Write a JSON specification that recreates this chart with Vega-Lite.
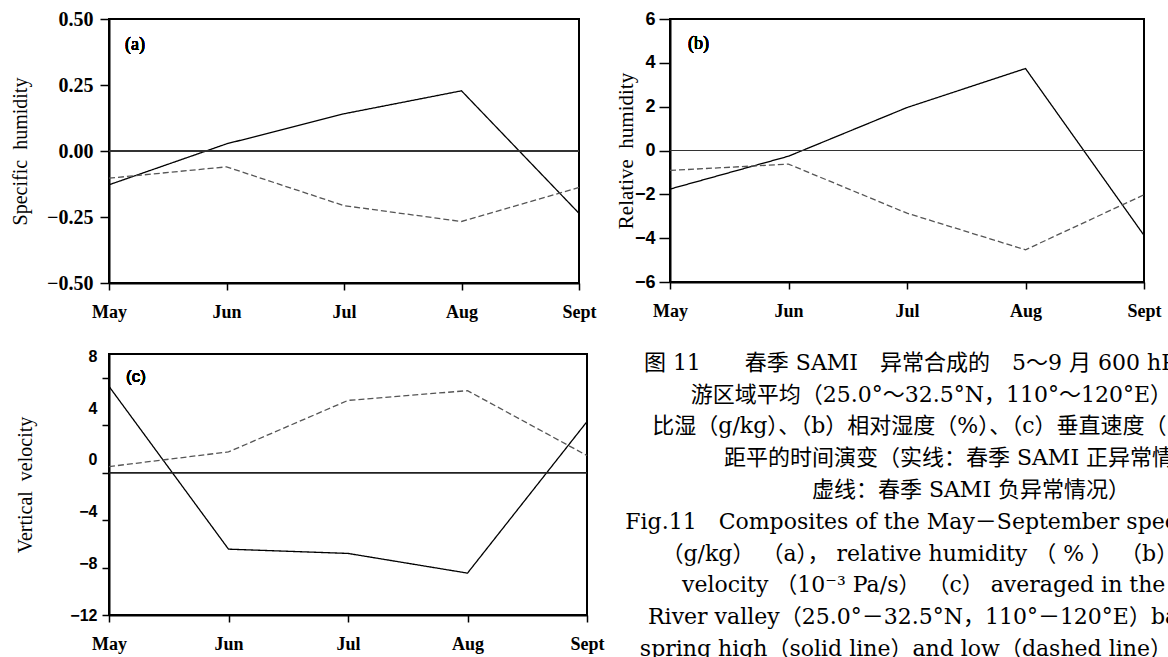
{
  "$schema": "https://vega.github.io/schema/vega-lite/v6.json",
  "background": "white",
  "padding": {"left": 8, "top": 8, "right": 0, "bottom": 0},
  "config": {
    "view": {"stroke": null},
    "axis": {"grid": false, "domainColor": "black", "tickColor": "black", "labelColor": "black", "titleColor": "black"}
  },
  "datasets": {
    "a": [
      {"month": "May", "case": "high", "value": -0.128},
      {"month": "Jun", "case": "high", "value": 0.027},
      {"month": "Jul", "case": "high", "value": 0.141},
      {"month": "Aug", "case": "high", "value": 0.228},
      {"month": "Sept", "case": "high", "value": -0.236},
      {"month": "May", "case": "low", "value": -0.103},
      {"month": "Jun", "case": "low", "value": -0.06},
      {"month": "Jul", "case": "low", "value": -0.207},
      {"month": "Aug", "case": "low", "value": -0.267},
      {"month": "Sept", "case": "low", "value": -0.138}
    ],
    "b": [
      {"month": "May", "case": "high", "value": -1.76},
      {"month": "Jun", "case": "high", "value": -0.26},
      {"month": "Jul", "case": "high", "value": 1.96},
      {"month": "Aug", "case": "high", "value": 3.74},
      {"month": "Sept", "case": "high", "value": -3.87},
      {"month": "May", "case": "low", "value": -0.91},
      {"month": "Jun", "case": "low", "value": -0.62},
      {"month": "Jul", "case": "low", "value": -2.86},
      {"month": "Aug", "case": "low", "value": -4.53},
      {"month": "Sept", "case": "low", "value": -2.02}
    ],
    "c": [
      {"month": "May", "case": "high", "value": 7.27},
      {"month": "Jun", "case": "high", "value": -6.45},
      {"month": "Jul", "case": "high", "value": -6.81},
      {"month": "Aug", "case": "high", "value": -8.47},
      {"month": "Sept", "case": "high", "value": 4.3},
      {"month": "May", "case": "low", "value": 0.51},
      {"month": "Jun", "case": "low", "value": 1.75},
      {"month": "Jul", "case": "low", "value": 6.09},
      {"month": "Aug", "case": "low", "value": 6.91},
      {"month": "Sept", "case": "low", "value": 1.44}
    ],
    "cap": [
      {"line": 1, "lang": "zh", "text": "图 11　　春季 SAMI　异常合成的　5～9 月 600 hPa　长江中下"},
      {"line": 2, "lang": "zh", "text": "游区域平均（25.0°～32.5°N，110°～120°E）的（a）"},
      {"line": 3, "lang": "zh", "text": "比湿（g/kg）、（b）相对湿度（%）、（c）垂直速度（10⁻³ Pa/s）"},
      {"line": 4, "lang": "zh", "text": "距平的时间演变（实线：春季 SAMI 正异常情况；"},
      {"line": 5, "lang": "zh", "text": "虚线：春季 SAMI 负异常情况）"},
      {"line": 6, "lang": "en", "text": "Fig.11　Composites of the May－September specific humidity"},
      {"line": 7, "lang": "en", "text": "（g/kg） （a）， relative humidity （ % ） （b）， vertical"},
      {"line": 8, "lang": "en", "text": "velocity （10⁻³ Pa/s） （c） averaged in the Yangtze"},
      {"line": 9, "lang": "en", "text": "River valley（25.0°－32.5°N，110°－120°E）based on the"},
      {"line": 10, "lang": "en", "text": "spring high（solid line）and low（dashed line）SAMI cases"}
    ]
  },
  "columns": 2,
  "align": "none",
  "spacing": {"row": 25, "column": 7},
  "concat": [
    {
      "width": 470, "height": 264,
      "view": {"stroke": "black", "strokeWidth": 2},
      "data": {"name": "a"},
      "layer": [
        {
          "mark": {"type": "line", "strokeWidth": 1.3},
          "encoding": {
            "x": {"field": "month", "type": "ordinal", "sort": ["May", "Jun", "Jul", "Aug", "Sept"], "scale": {"type": "point", "padding": 0},
              "axis": {"title": null, "labelAngle": 0, "labelFont": "Liberation Serif", "labelFontWeight": "bold", "labelFontSize": 18, "tickSize": 7, "tickWidth": 1.5, "domainWidth": 2, "labelPadding": 13}},
            "y": {"field": "value", "type": "quantitative", "scale": {"domain": [-0.5, 0.5], "nice": false},
              "axis": {"title": "Specific\u00a0 humidity", "values": [-0.5, -0.25, 0, 0.25, 0.5], "format": ".2f",
                "labelFont": "Liberation Serif", "labelFontWeight": "bold", "labelFontSize": 20, "tickSize": 9, "tickWidth": 1.5, "labelPadding": 7, "domainWidth": 2,
                "titleFont": "Liberation Serif", "titleFontSize": 20, "titleFontWeight": "normal", "titleX": -89, "titleBaseline": "middle"}},
            "color": {"field": "case", "type": "nominal", "scale": {"domain": ["high", "low"], "range": ["#000000", "#555555"]}, "legend": null},
            "strokeDash": {"field": "case", "type": "nominal", "scale": {"domain": ["high", "low"], "range": [[1, 0], [6, 3]]}, "legend": null}
          }
        },
        {
          "mark": {"type": "rule", "color": "#333333", "strokeWidth": 1},
          "encoding": {"y": {"datum": 0}}
        },
        {
          "mark": {"type": "text", "text": "(a)", "align": "left", "baseline": "middle", "dx": 16, "dy": 26, "font": "Liberation Serif", "fontWeight": "normal", "fontSize": 18},
          "encoding": {"x": {"datum": "May"}, "y": {"datum": 0.5}}
        }
      ]
    },
    {
      "width": 474, "height": 263,
      "view": {"stroke": "black", "strokeWidth": 2},
      "data": {"name": "b"},
      "layer": [
        {
          "mark": {"type": "line", "strokeWidth": 1.3},
          "encoding": {
            "x": {"field": "month", "type": "ordinal", "sort": ["May", "Jun", "Jul", "Aug", "Sept"], "scale": {"type": "point", "padding": 0},
              "axis": {"title": null, "labelAngle": 0, "labelFont": "Liberation Serif", "labelFontWeight": "bold", "labelFontSize": 18, "tickSize": 7, "tickWidth": 1.5, "domainWidth": 2, "labelPadding": 13}},
            "y": {"field": "value", "type": "quantitative", "scale": {"domain": [-6, 6], "nice": false},
              "axis": {"title": "Relative\u00a0 humidity", "values": [-6, -4, -2, 0, 2, 4, 6],
                "labelFont": "Liberation Sans", "labelFontWeight": "bold", "labelFontSize": 18, "tickSize": 11, "tickWidth": 1.5, "labelPadding": 4, "domainWidth": 2,
                "titleFont": "Liberation Serif", "titleFontSize": 21, "titleFontWeight": "normal", "titleX": -44, "titleBaseline": "middle"}},
            "color": {"field": "case", "type": "nominal", "scale": {"domain": ["high", "low"], "range": ["#000000", "#555555"]}, "legend": null},
            "strokeDash": {"field": "case", "type": "nominal", "scale": {"domain": ["high", "low"], "range": [[1, 0], [6, 3]]}, "legend": null}
          }
        },
        {
          "mark": {"type": "rule", "color": "#333333", "strokeWidth": 1},
          "encoding": {"y": {"datum": 0}}
        },
        {
          "mark": {"type": "text", "text": "(b)", "align": "left", "baseline": "middle", "dx": 18, "dy": 25, "font": "Liberation Serif", "fontWeight": "normal", "fontSize": 18},
          "encoding": {"x": {"datum": "May"}, "y": {"datum": 6}}
        }
      ]
    },
    {
      "width": 478, "height": 261,
      "view": {"stroke": "black", "strokeWidth": 2},
      "data": {"name": "c"},
      "layer": [
        {
          "mark": {"type": "line", "strokeWidth": 1.3},
          "encoding": {
            "x": {"field": "month", "type": "ordinal", "sort": ["May", "Jun", "Jul", "Aug", "Sept"], "scale": {"type": "point", "padding": 0},
              "axis": {"title": null, "labelAngle": 0, "labelFont": "Liberation Serif", "labelFontWeight": "bold", "labelFontSize": 18, "tickSize": 7, "tickWidth": 1.5, "domainWidth": 2, "labelPadding": 13}},
            "y": {"field": "value", "type": "quantitative", "scale": {"domain": [-12, 10], "nice": false},
              "axis": {"title": "Vertical\u00a0 velocity", "values": [-12, -8, -4, 0, 4, 8],
                "labelFont": "Liberation Sans", "labelFontWeight": "bold", "labelFontSize": 16, "tickSize": 7, "tickWidth": 1.5, "labelPadding": 5, "domainWidth": 2,
                "labelOffset": {"expr": "-(datum.value + 12) * 1.07"},
                "titleFont": "Liberation Serif", "titleFontSize": 20, "titleFontWeight": "normal", "titleX": -84, "titleBaseline": "middle"}},
            "color": {"field": "case", "type": "nominal", "scale": {"domain": ["high", "low"], "range": ["#000000", "#555555"]}, "legend": null},
            "strokeDash": {"field": "case", "type": "nominal", "scale": {"domain": ["high", "low"], "range": [[1, 0], [6, 3]]}, "legend": null}
          }
        },
        {
          "mark": {"type": "rule", "color": "#222222", "strokeWidth": 1},
          "encoding": {"y": {"datum": 0}}
        },
        {
          "mark": {"type": "text", "text": "(c)", "align": "left", "baseline": "middle", "dx": 17, "dy": 23, "font": "Liberation Sans", "fontWeight": "normal", "fontSize": 17},
          "encoding": {"x": {"datum": "May"}, "y": {"datum": 10}}
        }
      ]
    },
    {
      "width": 562, "height": 311,
      "data": {"name": "cap"},
      "encoding": {
        "x": {"datum": 63.7, "scale": {"domain": [0, 100]}, "axis": null},
        "y": {"field": "line", "type": "ordinal", "scale": {"type": "point", "padding": 0.39, "align": 0.64}, "axis": null},
        "text": {"field": "text"}
      },
      "layer": [
        {
          "transform": [{"filter": "datum.lang === 'zh'"}],
          "mark": {"type": "text", "clip": true, "align": "center", "baseline": "middle", "font": "DejaVu Serif, Noto Sans CJK SC", "fontSize": 22, "color": "black"}
        },
        {
          "transform": [{"filter": "datum.lang === 'en'"}],
          "mark": {"type": "text", "clip": true, "align": "center", "baseline": "middle", "font": "DejaVu Serif, Noto Sans CJK SC", "fontSize": 22, "color": "black"}
        }
      ]
    }
  ]
}
